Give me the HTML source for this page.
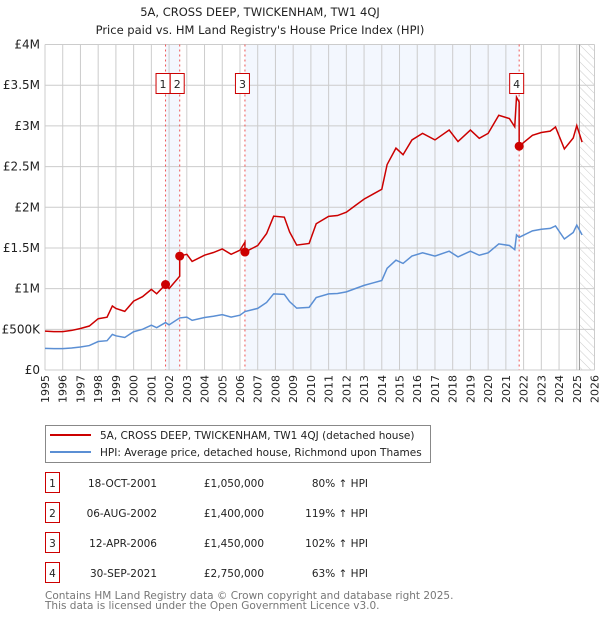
<!DOCTYPE html>
<html><head><meta charset="utf-8">
<style>
body{margin:0;background:#fff;font-family:"DejaVu Sans","Liberation Sans",sans-serif;}
svg{display:block}
text{font-family:"DejaVu Sans","Liberation Sans",sans-serif;}
</style></head>
<body>
<svg id="chart" width="600" height="620" xmlns="http://www.w3.org/2000/svg">
<defs>
<pattern id="hatch" width="6" height="6" patternUnits="userSpaceOnUse" patternTransform="rotate(-45)">
<line x1="0" y1="0" x2="0" y2="6" stroke="#ccc" stroke-width="1"/>
</pattern>
</defs>
<text x="260" y="16" text-anchor="middle" font-size="11.5" fill="#222">5A, CROSS DEEP, TWICKENHAM, TW1 4QJ</text>
<text x="260" y="34" text-anchor="middle" font-size="11.5" fill="#222">Price paid vs. HM Land Registry's House Price Index (HPI)</text>
<g id="plot"></g>
<g>
<rect x="45.5" y="425.5" width="385" height="37" fill="#fff" stroke="#888"/>
<line x1="50" y1="435" x2="91" y2="435" stroke="#cc0000" stroke-width="2"/>
<text x="100" y="439" font-size="10.5" fill="#222">5A, CROSS DEEP, TWICKENHAM, TW1 4QJ (detached house)</text>
<line x1="50" y1="452" x2="91" y2="452" stroke="#5b8fd4" stroke-width="2"/>
<text x="100" y="456" font-size="10.5" fill="#222">HPI: Average price, detached house, Richmond upon Thames</text>
</g>
<g id="table" font-size="10.5" fill="#222"></g>
<text x="45" y="599" font-size="10.5" fill="#777">Contains HM Land Registry data © Crown copyright and database right 2025.</text>
<text x="45" y="609" font-size="10.5" fill="#777">This data is licensed under the Open Government Licence v3.0.</text>
</svg>
<script>
// ---- data ----
const hpiYears = [1995,1995.5,1996,1996.5,1997,1997.5,1998,1998.5,1998.8,1999,1999.5,2000,2000.5,2001,2001.3,2001.8,2002,2002.6,2003,2003.3,2004,2004.5,2005,2005.5,2006,2006.28,2007,2007.5,2007.9,2008.5,2008.8,2009.2,2009.9,2010.3,2011,2011.5,2012,2012.5,2013,2013.5,2014,2014.3,2014.8,2015.2,2015.7,2016.3,2017,2017.8,2018.3,2019,2019.5,2020,2020.6,2021.2,2021.5,2021.6,2021.75,2022.5,2023,2023.5,2023.8,2024.3,2024.8,2025.0,2025.3];
const hpiValues = [265000,262000,262000,270000,283000,300000,350000,360000,437000,420000,400000,470000,500000,550000,520000,583000,555000,640000,650000,610000,645000,660000,680000,650000,673000,718000,757000,830000,936000,930000,840000,760000,770000,890000,935000,940000,960000,1000000,1040000,1070000,1100000,1250000,1350000,1310000,1400000,1440000,1400000,1460000,1390000,1460000,1410000,1440000,1550000,1530000,1480000,1660000,1630000,1710000,1730000,1740000,1770000,1610000,1690000,1780000,1660000];
const saleLabels = ["1","2","3","4"];
const saleYears = [2001.8,2002.6,2006.28,2021.75];
const salePrices = [1050000,1400000,1450000,2750000];
const saleDates = ["18-OCT-2001","06-AUG-2002","12-APR-2006","30-SEP-2021"];
const salePriceText = ["£1,050,000","£1,400,000","£1,450,000","£2,750,000"];
const salePct = ["80% ↑ HPI","119% ↑ HPI","102% ↑ HPI","63% ↑ HPI"];
const yTicks = [0,500000,1000000,1500000,2000000,2500000,3000000,3500000,4000000];
const yTickLabels = ["£0","£500K","£1M","£1.5M","£2M","£2.5M","£3M","£3.5M","£4M"];
const xTicks = [1995,1996,1997,1998,1999,2000,2001,2002,2003,2004,2005,2006,2007,2008,2009,2010,2011,2012,2013,2014,2015,2016,2017,2018,2019,2020,2021,2022,2023,2024,2025,2026];
const dataEnd = 2025.15;

// ---- axes ----
const X0=45,X1=594.5,Y0=370,Y1=44.5;
const xS = y => X0 + (y-1995)/(2026-1995)*(X1-X0);
const yS = v => Y0 - v/4000000*(Y0-Y1);
const NS="http://www.w3.org/2000/svg";
const plot=document.getElementById('plot');
function mk(tag,attrs,parent){const e=document.createElementNS(NS,tag);for(const k in attrs)e.setAttribute(k,attrs[k]);(parent||plot).appendChild(e);return e;}
function hpiAt(y){for(let i=1;i<hpiYears.length;i++){if(y<=hpiYears[i]){const t=(y-hpiYears[i-1])/(hpiYears[i]-hpiYears[i-1]);return hpiValues[i-1]+t*(hpiValues[i]-hpiValues[i-1]);}}return hpiValues[hpiValues.length-1];}

for(let i=0;i<saleYears.length-1;i+=2){
  const r=mk('rect',{x:xS(saleYears[i]),y:Y1,width:xS(saleYears[i+1])-xS(saleYears[i]),height:Y0-Y1,fill:'#eef3fd',opacity:0.7});
  
  
}
const h=mk('rect',{x:xS(dataEnd),y:Y1,width:X1-xS(dataEnd),height:Y0-Y1,fill:'url(#hatch)'});



xTicks.forEach((t,i)=>{
  const l=mk('line',{x1:xS(t),x2:xS(t),y1:Y1,y2:Y0,stroke:'#ccc','stroke-width':1});
  
  
  const tx=mk('text',{x:0,y:0,'font-size':11,fill:'#222','text-anchor':'end',transform:`translate(${xS(t)+4},${Y0+5}) rotate(-90)`});
  tx.textContent=t;
  
  
});
yTicks.forEach((t,i)=>{
  const l=mk('line',{x1:X0,x2:X1,y1:yS(t),y2:yS(t),stroke:'#ccc','stroke-width':1});
  
  
  const tx=mk('text',{x:X0-5,y:yS(t)+4,'font-size':12,fill:'#222','text-anchor':'end'});
  tx.textContent=yTickLabels[i];
  
  
});
const dl=mk('line',{x1:xS(dataEnd),x2:xS(dataEnd),y1:Y1,y2:Y0,stroke:'#999','stroke-width':1});



saleYears.forEach((s,i)=>{
  const l=mk('line',{x1:xS(s),x2:xS(s),y1:Y1,y2:Y0,stroke:'#e55','stroke-width':1,'stroke-dasharray':'2,3'});
  
  
});

const hp=mk('polyline',{points:hpiYears.map((y,i)=>xS(y)+','+yS(hpiValues[i])).join(' '),fill:'none',stroke:'#5b8fd4','stroke-width':1.5});



const ratios=saleYears.map((s,i)=>salePrices[i]/hpiAt(s));
function redAt(y){let r=ratios[0];for(let i=0;i<saleYears.length;i++)if(y>=saleYears[i])r=ratios[i];return hpiAt(y)*r;}
let pts=[];
const allYears=[...hpiYears];
saleYears.forEach(s=>{allYears.push(s-0.001);allYears.push(s);});
allYears.sort((a,b)=>a-b);
allYears.forEach(y=>pts.push(xS(y)+','+yS(redAt(y))));
const rp=mk('polyline',{points:pts.join(' '),fill:'none',stroke:'#cc0000','stroke-width':1.5});



const badgeX=[];
saleYears.forEach((s,i)=>{ badgeX.push(xS(s)-10); });
if(badgeX[0]+14>badgeX[1]) badgeX[0]=badgeX[1]-14;
saleYears.forEach((s,i)=>{
  const c=mk('circle',{cx:xS(s),cy:yS(salePrices[i]),r:4.5,fill:'#cc0000'});
  
  
  const bx=badgeX[i];
  const b=mk('rect',{x:bx+0.5,y:73.5,width:14,height:20,fill:'#fff',stroke:'#cc0000','stroke-width':1});
  
  
  const t=mk('text',{x:bx+7.5,y:88,'font-size':11,fill:'#222','text-anchor':'middle'});
  t.textContent=saleLabels[i];
  
  
});

const tb=document.getElementById('table');
saleLabels.forEach((lab,i)=>{
  const cy=483+i*30;
  const b=mk('rect',{x:45.5,y:cy-10.5,width:14,height:20,fill:'#fff',stroke:'#cc0000','stroke-width':1},tb);
  
  
  const cells=[[52.5,lab,'middle'],[157,saleDates[i],'end'],[264,salePriceText[i],'end'],[368,salePct[i],'end']];
  cells.forEach(c=>{
    const t=mk('text',{x:c[0],y:cy+4,'text-anchor':c[2],'font-size':10.5,fill:'#222'},tb);
    t.textContent=c[1];
    
    
  });
});
</script>
</body></html>
